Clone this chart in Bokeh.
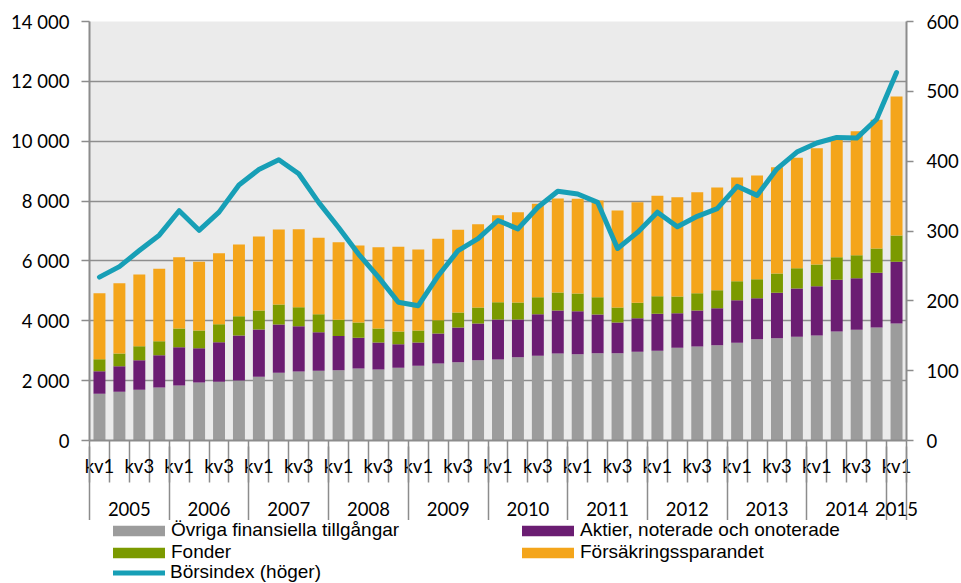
from bokeh.plotting import figure
from bokeh.layouts import column
from bokeh.models import (ColumnDataSource, Range1d, LinearAxis, FixedTicker, Grid,
                          Legend, LegendItem)
from bokeh.embed import file_html
from bokeh.resources import INLINE

# ---- data ----
years = ["2005", "2006", "2007", "2008", "2009", "2010", "2011", "2012", "2013", "2014", "2015"]
quarters = ["kv1", "kv2", "kv3", "kv4"] * 10 + ["kv1"]
bar_years = [y for y in years[:-1] for _ in range(4)] + ["2015"]

ovriga = [1560, 1627, 1693, 1771, 1838, 1938, 1960, 2005, 2127, 2261,
          2305, 2327, 2345, 2405, 2372, 2427, 2494, 2572, 2617, 2683,
          2706, 2783, 2828, 2907, 2883, 2917, 2917, 2962, 2995, 3096,
          3140, 3184, 3263, 3385, 3419, 3463, 3508, 3642, 3698, 3775, 3909]
aktier = [756, 856, 990, 1079, 1280, 1147, 1325, 1503, 1582, 1615,
          1515, 1292, 1145, 1025, 902, 791, 780, 1003, 1158, 1226,
          1337, 1260, 1392, 1436, 1437, 1293, 1025, 1125, 1237, 1158,
          1203, 1237, 1425, 1370, 1515, 1615, 1647, 1725, 1725, 1828, 2061]
fonder = [401, 424, 468, 468, 624, 590, 601, 645, 634, 668,
          634, 601, 545, 512, 468, 424, 401, 445, 501, 534,
          578, 567, 568, 602, 591, 578, 501, 512, 590, 557,
          579, 601, 635, 635, 645, 679, 725, 758, 768, 812, 879]
forsakring = [2205, 2349, 2395, 2418, 2383, 2295, 2373, 2395, 2473, 2505,
              2607, 2551, 2585, 2573, 2717, 2828, 2706, 2717, 2762, 2784,
              2907, 3018, 3119, 3140, 3163, 3231, 3241, 3363, 3352, 3318,
              3374, 3431, 3464, 3464, 3553, 3687, 3886, 3955, 4143, 4300, 4644]
borsindex = [234, 249, 272, 294, 329, 301, 327, 366, 388, 402,
             382, 341, 305, 267, 234, 198, 193, 236, 272, 289,
             315, 303, 334, 357, 353, 341, 275, 298, 327, 306,
             321, 332, 364, 351, 389, 413, 426, 434, 433, 460, 527]

left_ticks = list(range(0, 14001, 2000))
right_ticks = list(range(0, 601, 100))

series_names = ["Övriga finansiella tillgångar", "Aktier, noterade och onoterade",
                "Fonder", "Försäkringssparandet"]
line_name = "Börsindex (höger)"

# ---- styles ----
COLORS = ["#9C9C9C", "#6B1D72", "#7B9A00", "#F4A51B"]
LINE_COLOR = "#179FB6"
AXIS_COLOR = "#8C8C8C"
GRID_COLOR = "#8E8E8E"
TICK_FONT = "Lato"
TICK_SIZE = "18.5px"
LEG_FONT = "Liberation Sans"
LEG_SIZE = "19px"
BORDER_L, BORDER_R = 89, 55

n = len(quarters)
xs = list(range(n))
stack_cols = ["ovriga", "aktier", "fonder", "forsakring"]
src = ColumnDataSource(dict(x=xs, ovriga=ovriga, aktier=aktier, fonder=fonder,
                            forsakring=forsakring, borsindex=borsindex))

p = figure(width=961, height=520, output_backend="svg", toolbar_location=None,
           x_range=Range1d(-0.5, n - 0.5), y_range=Range1d(left_ticks[0], left_ticks[-1]),
           x_axis_type=None, y_axis_type=None,
           min_border_left=BORDER_L, min_border_right=BORDER_R, min_border_top=21,
           min_border_bottom=80)
p.extra_y_ranges = {"idx": Range1d(right_ticks[0], right_ticks[-1])}
p.background_fill_color = "#EBEBEB"
p.border_fill_color = "white"
p.outline_line_color = None

yticker = FixedTicker(ticks=left_ticks, minor_ticks=[])
p.add_layout(Grid(dimension=1, ticker=yticker, grid_line_color=GRID_COLOR, grid_line_width=1.5))

bars = p.vbar_stack(stack_cols, x="x", width=0.6, fill_color=COLORS, line_color=None, source=src)
line = p.line("x", "borsindex", source=src, y_range_name="idx", line_width=5,
              line_color=LINE_COLOR, line_join="round", line_cap="round")


def style_axis(ax):
    ax.axis_line_color = AXIS_COLOR
    ax.axis_line_width = 2
    ax.major_tick_line_color = AXIS_COLOR
    ax.major_tick_line_width = 1.5
    ax.major_tick_in = 0
    ax.minor_tick_line_color = None
    ax.major_label_text_font = TICK_FONT
    ax.major_label_text_font_size = TICK_SIZE
    ax.major_label_text_color = "#000000"


def fmt(v):
    return f"{v:,}".replace(",", " ")


ly = LinearAxis(ticker=yticker, major_label_overrides={t: fmt(t) for t in left_ticks})
style_axis(ly)
ly.major_tick_out = 8
ly.major_label_standoff = 12
p.add_layout(ly, "left")

ry = LinearAxis(y_range_name="idx", ticker=FixedTicker(ticks=right_ticks, minor_ticks=[]))
style_axis(ry)
ry.major_tick_out = 7
ry.major_label_standoff = 13
p.add_layout(ry, "right")

# quarter axis
q_ticks = [i for i, q in enumerate(quarters) if q in ("kv1", "kv3")]
bx1 = LinearAxis(ticker=FixedTicker(ticks=q_ticks, minor_ticks=[i - 0.5 for i in range(n + 1)]),
                 major_label_overrides={i: quarters[i] for i in q_ticks})
style_axis(bx1)
bx1.major_tick_line_color = None
bx1.major_tick_out = 0
bx1.minor_tick_line_color = AXIS_COLOR
bx1.minor_tick_line_width = 1.5
bx1.minor_tick_in = 0
bx1.minor_tick_out = 42
bx1.major_label_standoff = -28
p.add_layout(bx1, "below")

# year axis
centers, bounds = [], [-0.5]
for y in years:
    idx = [i for i, by in enumerate(bar_years) if by == y]
    c = (idx[0] + idx[-1]) / 2
    centers.append(int(c) if c == int(c) else c)
    bounds.append(idx[-1] + 0.5)
bx2 = LinearAxis(ticker=FixedTicker(ticks=centers, minor_ticks=bounds),
                 major_label_overrides={c: y for c, y in zip(centers, years)})
style_axis(bx2)
bx2.axis_line_color = None
bx2.major_tick_line_color = None
bx2.major_tick_out = 0
bx2.minor_tick_line_color = AXIS_COLOR
bx2.minor_tick_line_width = 1.5
bx2.minor_tick_in = 33
bx2.minor_tick_out = 47
bx2.major_label_standoff = -25
p.add_layout(bx2, "below")

# ---- legend strip (own figure below the chart, frame aligned with the chart) ----
# Its glyphs are hidden; they only lend their styling to the legend swatches.
LW, LH = 961, 63
lg = figure(width=LW, height=LH, output_backend="svg", toolbar_location=None,
            x_range=Range1d(-0.5, n - 0.5), y_range=Range1d(left_ticks[0], left_ticks[-1]),
            x_axis_type=None, y_axis_type=None, min_border=0,
            min_border_left=BORDER_L, min_border_right=BORDER_R,
            min_border_top=0, min_border_bottom=0)
lg.outline_line_color = None
lg.background_fill_color = "white"
lg.border_fill_color = "white"

sw = [lg.vbar(x="x", top=c, width=0.6, fill_color=col, line_color=None, source=src,
              visible=False)
      for c, col in zip(stack_cols, COLORS)]
sl = lg.line("x", "borsindex", source=src, line_width=5,
             line_color=LINE_COLOR, line_cap="round", visible=False)


def add_legend(items, loc, gw, gh, standoff):
    leg = Legend(items=items, location=loc, glyph_width=gw, glyph_height=gh,
                 label_standoff=standoff, spacing=0, padding=0, margin=0,
                 border_line_color=None, background_fill_alpha=0,
                 inactive_fill_alpha=0,
                 label_text_font=LEG_FONT, label_text_font_size=LEG_SIZE,
                 label_text_color="#000000")
    lg.add_layout(leg)


add_legend([LegendItem(label=series_names[0], renderers=[sw[0]]),
            LegendItem(label=series_names[2], renderers=[sw[2]])], (17, 20), 65, 13, 0)
add_legend([LegendItem(label=series_names[1], renderers=[sw[1]]),
            LegendItem(label=series_names[3], renderers=[sw[3]])], (426, 20), 65, 13, 0)
add_legend([LegendItem(label=line_name, renderers=[sl])], (24, 0), 52, 13, 5)

layout = column(p, lg, spacing=0)
open("out.html", "w").write(file_html(layout, INLINE))
